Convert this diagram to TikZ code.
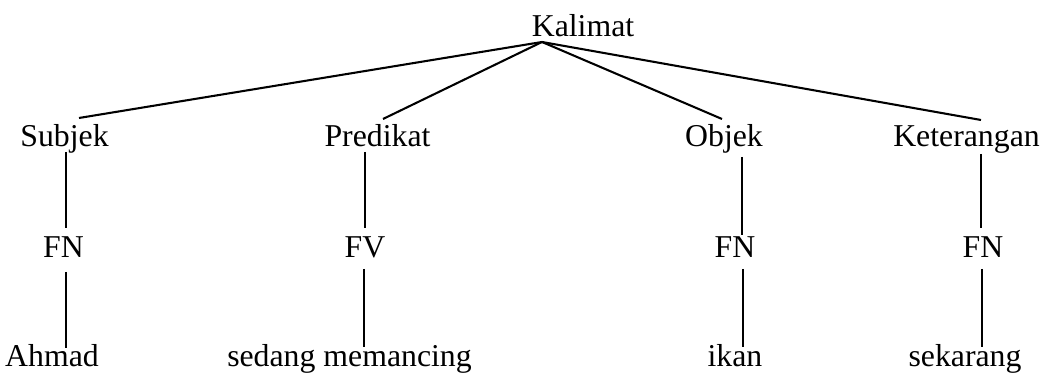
\documentclass[tikz,border=0pt]{standalone}
\usepackage{fontspec}
\setmainfont{Liberation Serif}
\begin{document}
\begin{tikzpicture}[x=0.387pt, y=-0.387pt,
    word/.style={anchor=base, inner sep=0pt, font=\fontsize{12.3}{15}\selectfont},
    branch/.style={line width=0.8pt},
    stem/.style={line width=0.5pt}]
    \useasboundingbox (0,0) rectangle (1043,374);
    % root
    \node[word] (kal) at (583,37) {Kalimat};
    % sentence functions
    \node[word] (subj) at (64.5,147) {Subjek};
    \node[word] (pred) at (377.5,147) {Predikat};
    \node[word] (obj) at (724,147) {Objek};
    \node[word] (ket) at (966.5,147) {Keterangan};
    % phrase categories
    \node[word] (fn1) at (63.5,258) {FN};
    \node[word] (fv) at (365,258) {FV};
    \node[word] (fn2) at (735,258) {FN};
    \node[word] (fn3) at (983,258) {FN};
    % words
    \node[word] (ahmad) at (52,367) {Ahmad};
    \node[word] (sedang) at (349.5,367) {sedang memancing};
    \node[word] (ikan) at (735,367) {ikan};
    \node[word] (sekarang) at (965,367) {sekarang};

    \coordinate (apex) at ([shift={(-41,5)}]kal.base);
    \draw[branch] (apex) -- ([shift={(14.5,-29)}]subj.base);
    \draw[branch] (apex) -- ([shift={(5.5,-28)}]pred.base);
    \draw[branch] (apex) -- ([shift={(-2,-28)}]obj.base);
    \draw[branch] (apex) -- ([shift={(14.5,-27)}]ket.base);

    \draw[stem] ([shift={(1.5,5)}]subj.base) -- ([shift={(2.5,-30)}]fn1.base);
    \draw[stem] ([shift={(2.5,14)}]fn1.base) -- ([shift={(14,-19)}]ahmad.base);
    \draw[stem] ([shift={(-12.5,5)}]pred.base) -- ([shift={(0,-30)}]fv.base);
    \draw[stem] ([shift={(-1,11)}]fv.base) -- ([shift={(14.5,-20)}]sedang.base);
    \draw[stem] ([shift={(18,10)}]obj.base) -- ([shift={(7,-23)}]fn2.base);
    \draw[stem] ([shift={(8,11)}]fn2.base) -- ([shift={(8,-20)}]ikan.base);
    \draw[stem] ([shift={(14.5,7)}]ket.base) -- ([shift={(-2,-30)}]fn3.base);
    \draw[stem] ([shift={(-1,11)}]fn3.base) -- ([shift={(17,-20)}]sekarang.base);
\end{tikzpicture}
\end{document}
